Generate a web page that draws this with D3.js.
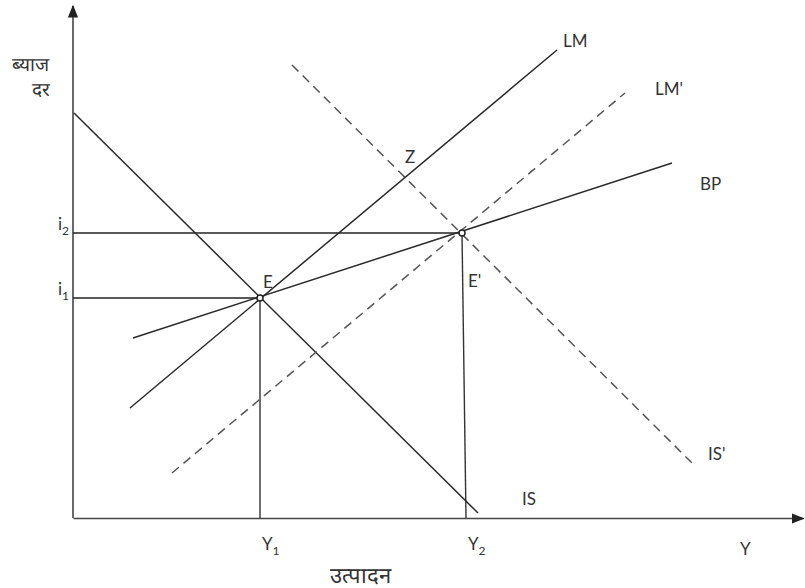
<!DOCTYPE html>
<html><head><meta charset="utf-8">
<script src="https://cdn.jsdelivr.net/npm/d3@7"></script>
<style>body{margin:0;background:#fff}svg{display:block}text{font-family:Lato,"Open Sans",sans-serif;fill:#333}</style>
</head><body><svg id="c" width="805" height="588"></svg>
<script>
// curves: [x1,y1,x2,y2] in model units
const curveNames = ["IS", "IS'", "LM", "LM'", "BP"];
const curveEnds = [[1,405,405,5],[219,453,622,52],[57,110,484,468],[99,45,552,425],[60,180,599,355]];
const curveDashed = [false, true, false, true, false];
const curveLabelPos = [[449,13],[635,58],[490,471],[582,423],[627,328]];
const equilibria = [[187,220],[389,285]];
const equilibriumNames = ["E","E'"];
const equilibriumLabelPos = [[190,230],[395,231]];
const rateLevels = [220,285];
const rateLabels = ["i1","i2"];
const outputLevels = [187,393];
const outputLabels = ["Y1","Y2"];

const svg = d3.select("#c");
const x = d3.scaleLinear().domain([0,730]).range([73,803]);
const y = d3.scaleLinear().domain([0,510]).range([518,8]);

svg.append("defs").append("marker").attr("id","arr").attr("viewBox","0 0 10 10")
  .attr("refX",9).attr("refY",5).attr("markerWidth",8).attr("markerHeight",8).attr("orient","auto")
  .append("path").attr("d","M0,1L10,5L0,9Z").attr("fill","#222");

// axes
svg.append("g").attr("transform",`translate(0,${y(0)})`)
  .call(d3.axisBottom(x).tickValues([]).tickSizeOuter(0))
  .call(g=>g.select(".domain").attr("stroke","#444").attr("stroke-width",1.6).attr("marker-end","url(#arr)"));
svg.append("g").attr("transform",`translate(${x(0)},0)`)
  .call(d3.axisLeft(y).tickValues([]).tickSizeOuter(0))
  .call(g=>g.select(".domain").attr("stroke","#444").attr("stroke-width",1.6).attr("d",`M0,${y(0)}V${y(510)-2}`).attr("marker-end","url(#arr)"));

// guide lines
rateLevels.forEach((r,i)=>{
  svg.append("line").attr("x1",x(0)).attr("x2",x(equilibria[i][0]))
    .attr("y1",y(r)).attr("y2",y(r)).attr("stroke","#222").attr("stroke-width",1.4);
});
outputLevels.forEach((o,i)=>{
  svg.append("line").attr("x1",x(equilibria[i][0])).attr("x2",x(o))
    .attr("y1",y(equilibria[i][1])).attr("y2",y(0)).attr("stroke","#333").attr("stroke-width",1.4);
});

// curves
curveEnds.forEach((c,i)=>{
  svg.append("line").attr("x1",x(c[0])).attr("y1",y(c[1])).attr("x2",x(c[2])).attr("y2",y(c[3]))
    .attr("stroke",curveDashed[i]?"#555":"#2a2a2a").attr("stroke-width",1.5)
    .attr("stroke-dasharray",curveDashed[i]?"9,6":null);
  const lp = curveLabelPos[i];
  svg.append("text").attr("x",x(lp[0])).attr("y",y(lp[1])).attr("font-size",17).text(curveNames[i]);
});

// equilibrium points
equilibria.forEach((e,i)=>{
  svg.append("circle").attr("cx",x(e[0])).attr("cy",y(e[1])).attr("r",3)
    .attr("fill","#fff").attr("stroke","#222").attr("stroke-width",1.5);
  const lp = equilibriumLabelPos[i];
  svg.append("text").attr("x",x(lp[0])).attr("y",y(lp[1])).attr("font-size",17).text(equilibriumNames[i]);
});
svg.append("text").attr("x",x(332)).attr("y",y(355)).attr("font-size",17).text("Z");

// sub-labelled ticks
function subText(px,py,label,anchor){
  const t = svg.append("text").attr("x",px).attr("y",py).attr("font-size",17).attr("text-anchor",anchor);
  t.append("tspan").text(label[0]);
  t.append("tspan").attr("font-size",12).attr("dy",5).text(label.slice(1));
}
rateLevels.forEach((r,i)=>subText(x(0)-4,y(r)-3,rateLabels[i],"end"));
outputLevels.forEach((o,i)=>subText(x(o)+2,y(-32),outputLabels[i],"start"));
svg.append("text").attr("x",x(667)).attr("y",y(-37)).attr("font-size",17).text("Y");

// axis titles
svg.append("text").attr("x",12).attr("y",71).attr("font-size",19).text("ब्याज");
svg.append("text").attr("x",32).attr("y",96).attr("font-size",19).text("दर");
svg.append("text").attr("x",360).attr("y",583).attr("font-size",22).attr("text-anchor","middle").text("उत्पादन");
</script></body></html>
